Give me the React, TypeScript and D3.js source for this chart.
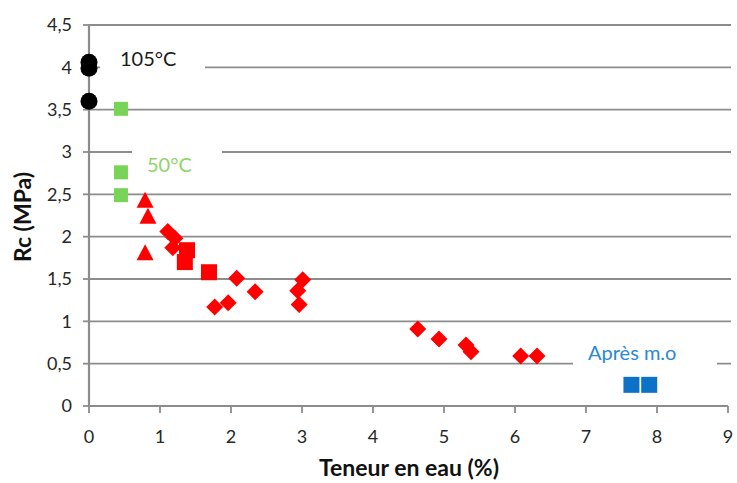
import React from "react";
import * as d3 from "d3";

// Compressive strength Rc (MPa) against water content (%)
const dried105: [number, number][] = [
  [0, 4.06],
  [0, 3.99],
  [0, 3.6],
];
const dried50: [number, number][] = [
  [0.45, 3.51],
  [0.45, 2.76],
  [0.45, 2.49],
];
const redTriangles: [number, number][] = [
  [0.79, 2.43],
  [0.83, 2.24],
  [0.79, 1.81],
];
const redSquares: [number, number][] = [
  [1.38, 1.84],
  [1.35, 1.7],
  [1.69, 1.58],
];
const redDiamonds: [number, number][] = [
  [1.11, 2.06],
  [1.21, 1.98],
  [1.18, 1.87],
  [2.08, 1.51],
  [2.34, 1.35],
  [1.77, 1.17],
  [1.96, 1.22],
  [3.01, 1.49],
  [2.94, 1.36],
  [2.96, 1.2],
  [4.63, 0.91],
  [4.93, 0.79],
  [5.31, 0.72],
  [5.38, 0.64],
  [6.08, 0.59],
  [6.31, 0.59],
];
const afterMo: [number, number][] = [
  [7.64, 0.25],
  [7.89, 0.25],
];

const xTicks = [0, 1, 2, 3, 4, 5, 6, 7, 8, 9];
const yTicks = [0, 0.5, 1, 1.5, 2, 2.5, 3, 3.5, 4, 4.5];
const fmt = (v: number) => String(v).replace(".", ",");

const W = 737;
const H = 483;
const FONT = "Lato, 'Open Sans', sans-serif";

export default function App() {
  const x = d3.scaleLinear().domain([0, 9]).range([89, 728]);
  const y = d3.scaleLinear().domain([0, 4.5]).range([406, 25]);
  const grid = "#8c8c8c";

  const square = (s: number) => `M${-s / 2},${-s / 2}h${s}v${s}h${-s}Z`;
  const diamond = (r: number) => `M0,${-r}L${r},0L0,${r}L${-r},0Z`;
  const triangle = (w: number, h: number) =>
    `M0,${-h / 2 - 1}L${w / 2},${h / 2}L${-w / 2},${h / 2}Z`;

  // white boxes that interrupt the gridlines behind the annotations
  const gaps = [
    { x0: 100, x1: 205, v: 4 },
    { x0: 132, x1: 222, v: 3 },
    { x0: 573, x1: 717, v: 0.5 },
  ];

  return (
    <svg
      width={W}
      height={H}
      style={{ position: "absolute", left: 0, top: 0, background: "#fff" }}
      fontFamily={FONT}
    >
      <rect width={W} height={H} fill="#fff" />
      {/* horizontal gridlines */}
      {yTicks
        .filter((v) => v > 0)
        .map((v) => (
          <line
            key={v}
            x1={x(0)}
            x2={x(9) + 3}
            y1={y(v)}
            y2={y(v)}
            stroke={grid}
            strokeWidth={1.8}
          />
        ))}
      {gaps.map((g, i) => (
        <rect key={i} x={g.x0} y={y(g.v) - 3} width={g.x1 - g.x0} height={6} fill="#fff" />
      ))}
      {/* axes */}
      <line x1={x(0)} x2={x(0)} y1={y(4.5)} y2={y(0)} stroke={grid} strokeWidth={2.2} />
      <line x1={x(0)} x2={x(9)} y1={y(0)} y2={y(0)} stroke={grid} strokeWidth={2.2} />
      {yTicks.map((v) => (
        <g key={v}>
          <line x1={x(0) - 6} x2={x(0)} y1={y(v)} y2={y(v)} stroke={grid} strokeWidth={1.8} />
          <text
            x={72}
            y={y(v)}
            dy="0.36em"
            textAnchor="end"
            fontSize={18}
            fill="#262626"
          >
            {fmt(v)}
          </text>
        </g>
      ))}
      {xTicks.map((v) => (
        <g key={v}>
          <line x1={x(v)} x2={x(v)} y1={y(0)} y2={y(0) + 7} stroke={grid} strokeWidth={1.8} />
          <text x={x(v)} y={443} textAnchor="middle" fontSize={18} fill="#262626">
            {v}
          </text>
        </g>
      ))}
      <text x={409} y={476} textAnchor="middle" fontSize={23} fontWeight="bold" fill="#111">
        Teneur en eau (%)
      </text>
      <text
        transform={`translate(31,217) rotate(-90)`}
        textAnchor="middle"
        fontSize={23}
        fontWeight="bold"
        fill="#111"
      >
        Rc (MPa)
      </text>

      {/* annotations */}
      <text x={120} y={66} fontSize={20} fill="#1a1a1a">
        105°C
      </text>
      <text x={147} y={172} fontSize={20} fill="#8fd46a">
        50°C
      </text>
      <text x={588} y={360} fontSize={20} fill="#2b88d4">
        Après m.o
      </text>

      {/* markers */}
      {dried105.map(([a, b], i) => (
        <circle key={i} cx={x(a)} cy={y(b)} r={8.5} fill="#000" />
      ))}
      {dried50.map(([a, b], i) => (
        <path key={i} transform={`translate(${x(a)},${y(b)})`} d={square(14)} fill="#78d456" />
      ))}
      {redTriangles.map(([a, b], i) => (
        <path key={i} transform={`translate(${x(a)},${y(b)})`} d={triangle(17, 15)} fill="#ff0000" />
      ))}
      {redSquares.map(([a, b], i) => (
        <path key={i} transform={`translate(${x(a)},${y(b)})`} d={square(16)} fill="#ff0000" />
      ))}
      {redDiamonds.map(([a, b], i) => (
        <path key={i} transform={`translate(${x(a)},${y(b)})`} d={diamond(8.5)} fill="#ff0000" />
      ))}
      {afterMo.map(([a, b], i) => (
        <path key={i} transform={`translate(${x(a)},${y(b)})`} d={square(16)} fill="#0b72c8" />
      ))}
    </svg>
  );
}
